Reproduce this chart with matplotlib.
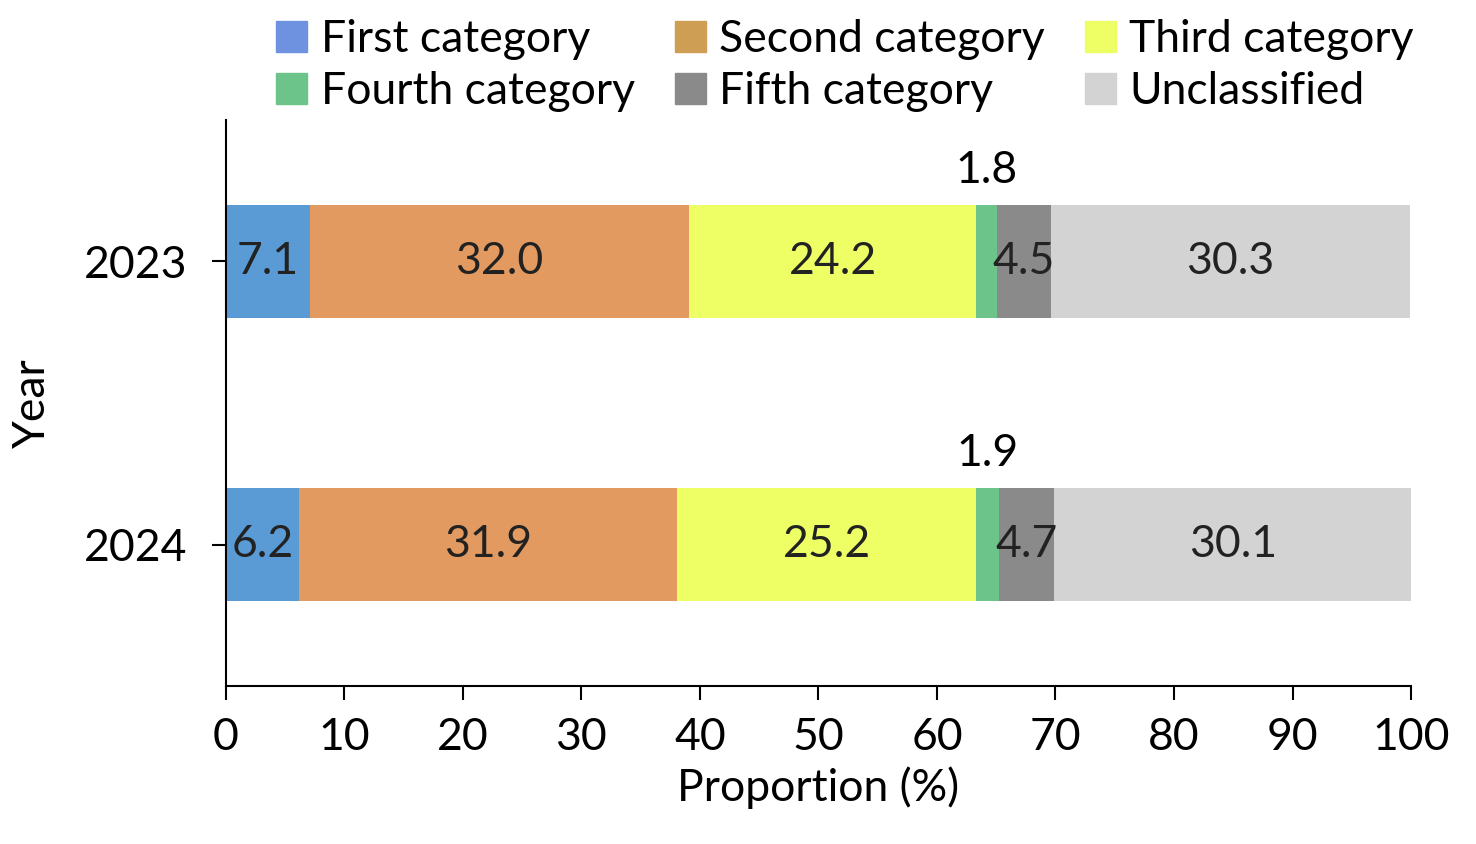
import matplotlib
matplotlib.use('Agg')
import matplotlib.pyplot as plt
from matplotlib.patches import Patch

plt.rcParams['font.family'] = ['Lato', 'DejaVu Sans']

years = ['2023', '2024']
categories = ['First category', 'Second category', 'Third category',
              'Fourth category', 'Fifth category', 'Unclassified']
values = {
    '2023': [7.1, 32.0, 24.2, 1.8, 4.5, 30.3],
    '2024': [6.2, 31.9, 25.2, 1.9, 4.7, 30.1],
}
colors = ['#5b9bd5', '#e39a60', '#eeff66', '#6cc48a', '#8a8a8a', '#d3d3d3']
legend_colors = ['#6e92e0', '#cf9e55', '#eeff66', '#6cc48a', '#8a8a8a', '#d3d3d3']

fs = 32
fig = plt.figure(figsize=(14.76, 8.44), dpi=100)
ax = fig.add_axes([0.153, 0.187, 0.803, 0.671])

for i, yr in enumerate(years):
    left = 0
    for j, v in enumerate(values[yr]):
        ax.barh(i, v, left=left, height=0.4, color=colors[j])
        cx = left + v / 2
        if j == 3:
            ax.text(cx, i - 0.25, f'{v:.1f}', ha='center', va='bottom', fontsize=fs)
        else:
            ax.text(cx, i, f'{v:.1f}', ha='center', va='center', fontsize=fs, color='#222222')
        left += v

ax.set_xlim(0, 100)
ax.set_ylim(1.5, -0.5)
ax.set_yticks(range(len(years)))
ax.set_yticklabels(years)
ax.set_xticks(range(0, 101, 10))
ax.tick_params(labelsize=fs, length=10, width=1.5, direction='out')
ax.tick_params(axis='y', pad=18)
ax.tick_params(axis='x', pad=12)
ax.spines['top'].set_visible(False)
ax.spines['right'].set_visible(False)
ax.spines['left'].set_linewidth(1.5)
ax.spines['bottom'].set_linewidth(1.5)
ax.set_xlabel('Proportion (%)', fontsize=fs, labelpad=6)
ax.set_ylabel('Year', fontsize=fs, labelpad=22)

order = [0, 3, 1, 4, 2, 5]
handles = [Patch(color=legend_colors[k]) for k in order]
labels = [categories[k] for k in order]
fig.legend(handles, labels, ncol=3, frameon=False, fontsize=fs,
           loc='upper left', bbox_to_anchor=(0.16, 1.025),
           handlelength=0.7, handleheight=0.7, handletextpad=0.3,
           columnspacing=0.9, labelspacing=0.25)

fig.savefig('out.png', dpi=100, facecolor='white')
